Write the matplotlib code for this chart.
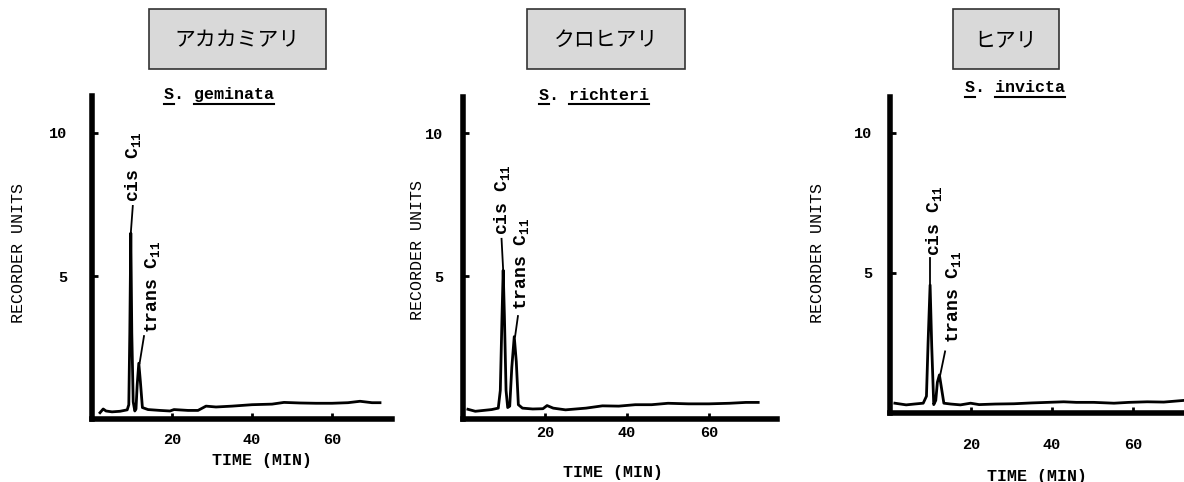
import matplotlib
matplotlib.use("Agg")
import matplotlib.pyplot as plt
from matplotlib.patches import Rectangle
from matplotlib.lines import Line2D
import numpy as np

plt.rcParams['font.family'] = ['Liberation Mono', 'Noto Sans CJK JP', 'DejaVu Sans']
plt.rcParams['font.weight'] = 'bold'
plt.rcParams['mathtext.fontset'] = 'custom'
plt.rcParams['mathtext.rm'] = 'Liberation Mono'
plt.rcParams['mathtext.bf'] = 'Liberation Mono:bold'

# --- data ---
names_jp = ['アカカミアリ', 'クロヒアリ', 'ヒアリ']
species = ['S. geminata', 'S. richteri', 'S. invicta']

t1 = [2.0, 2.8, 3.5, 5.0, 7.0, 8.8, 9.2, 9.45, 9.7, 9.95, 10.3, 10.7, 11.0, 11.3, 11.7, 12.1,
      12.6, 14.0, 17.0, 19.5, 20.5, 24.0, 26.5, 28.5, 31.0, 35.0, 40.0, 45.0, 48.0, 52.0,
      56.0, 60.0, 64.0, 67.0, 70.0, 72.0]
v1 = [0.22, 0.35, 0.28, 0.25, 0.27, 0.32, 0.5, 3.0, 6.5, 3.0, 0.6, 0.28, 0.35, 1.2, 1.95, 1.3,
      0.4, 0.33, 0.3, 0.28, 0.33, 0.3, 0.3, 0.45, 0.42, 0.45, 0.5, 0.52, 0.58, 0.56,
      0.55, 0.55, 0.57, 0.62, 0.57, 0.57]

t2 = [1.2, 3.0, 5.0, 7.0, 8.6, 9.1, 9.5, 9.8, 10.1, 10.5, 10.9, 11.4, 11.9, 12.5, 13.0, 13.5,
      14.5, 17.0, 19.5, 20.5, 22.0, 25.0, 30.0, 34.0, 38.0, 42.0, 46.0, 50.0, 55.0, 60.0,
      65.0, 69.0, 72.0]
v2 = [0.34, 0.27, 0.3, 0.33, 0.38, 1.0, 3.5, 5.2, 3.6, 1.0, 0.4, 0.45, 1.8, 2.88, 2.0, 0.5,
      0.38, 0.35, 0.36, 0.47, 0.38, 0.32, 0.38, 0.46, 0.45, 0.5, 0.5, 0.55, 0.53, 0.53,
      0.55, 0.58, 0.58]

t3 = [1.2, 4.0, 6.0, 8.2, 9.0, 9.4, 9.9, 10.3, 10.8, 11.3, 11.7, 12.2, 12.7, 13.3, 15.0, 17.4,
      19.9, 22.0, 26.0, 30.6, 35.0, 39.0, 42.9, 46.0, 50.3, 55.3, 59.0, 63.5, 67.6, 72.6]
v3 = [0.35, 0.29, 0.32, 0.35, 0.6, 2.5, 4.57, 2.4, 0.3, 0.45, 1.1, 1.36, 0.9, 0.35, 0.32, 0.29,
      0.35, 0.3, 0.32, 0.33, 0.36, 0.38, 0.4, 0.38, 0.38, 0.35, 0.38, 0.4, 0.39, 0.45]

traces = [(t1, v1), (t2, v2), (t3, v3)]
trans_idx = [14, 13, 11]  # index of trans C11 peak in each trace

# --- layout (pixels) ---
W, H = 1184, 482
panels = [
    dict(left=92, zero=419, ppm=4.0, ppu=28.6, xmax=75.0, ymax=11.3, ypad=18, xpad=10,
         xl=(262, 460), yl=(19, 253), title=(219, 95), box=(149, 326),
         cis_txt=(10.3, 7.6), cis_end=(10.2, 7.45), tr_txt=(15.0, 3.0), tr_end=(13.0, 2.9)),
    dict(left=463, zero=419, ppm=4.1, ppu=28.6, xmax=76.6, ymax=11.26, ypad=14, xpad=5,
         xl=(613, 472), yl=(417, 250), title=(594, 95), box=(527, 685),
         cis_txt=(9.4, 6.45), cis_end=(9.4, 6.3), tr_txt=(14.3, 3.8), tr_end=(13.4, 3.6)),
    dict(left=890, zero=413, ppm=4.05, ppu=28.0, xmax=72.6, ymax=11.3, ypad=13, xpad=18,
         xl=(1037, 476), yl=(817, 253), title=(1015, 88), box=(953, 1059),
         cis_txt=(10.9, 5.6), cis_end=(9.9, 5.55), tr_txt=(15.6, 2.5), tr_end=(13.6, 2.2)),
]

fig = plt.figure(figsize=(W / 100, H / 100), dpi=100)
titles = []

for i, p in enumerate(panels):
    t, v = traces[i]
    ax = fig.add_axes([p['left'] / W, (H - p['zero']) / H,
                       p['xmax'] * p['ppm'] / W, p['ymax'] * p['ppu'] / H])
    ax.plot(t, v, color='black', lw=2.0, solid_joinstyle='round')
    ax.set_xlim(0, p['xmax'])
    ax.set_ylim(0, p['ymax'])
    for s in ['top', 'right']:
        ax.spines[s].set_visible(False)
    for s in ['left', 'bottom']:
        ax.spines[s].set_linewidth(4)
        ax.spines[s].set_capstyle('projecting')
    ax.set_xticks([20, 40, 60])
    ax.set_yticks([5, 10])
    ax.tick_params(axis='y', direction='in', length=4, width=2, pad=p['ypad'], labelsize=11)
    ax.tick_params(axis='x', direction='in', length=4, width=2, pad=p['xpad'], labelsize=11)

    # peak labels
    ic = int(np.argmax(v))
    it = trans_idx[i]
    ax.plot([t[ic], p['cis_end'][0]], [v[ic], p['cis_end'][1]], color='black', lw=1.3)
    ax.plot([t[it] + 0.2, p['tr_end'][0]], [v[it], p['tr_end'][1]], color='black', lw=1.3)
    ax.text(p['cis_txt'][0], p['cis_txt'][1], r'cis C$_{\mathbf{11}}$', rotation=90,
            ha='center', va='bottom', fontsize=13)
    ax.text(p['tr_txt'][0], p['tr_txt'][1], r'trans C$_{\mathbf{11}}$', rotation=90,
            ha='center', va='bottom', fontsize=13)

    fig.text(p['xl'][0] / W, 1 - p['xl'][1] / H, 'TIME (MIN)', ha='center', va='center',
             fontsize=12)
    fig.text(p['yl'][0] / W, 1 - p['yl'][1] / H, 'RECORDER UNITS', ha='center', va='center',
             rotation=90, fontsize=12, fontweight='normal')
    titles.append(fig.text(p['title'][0] / W, 1 - p['title'][1] / H, species[i],
                           ha='center', va='center', fontsize=12))

    # Japanese name box
    x0, x1 = p['box']
    fig.patches.append(Rectangle((x0 / W, 1 - 69 / H), (x1 - x0) / W, 60 / H,
                                 transform=fig.transFigure, facecolor='#d9d9d9',
                                 edgecolor='#333333', lw=1.2))
    fig.text((x0 + x1) / 2 / W, 1 - 40 / H, names_jp[i], ha='center', va='center',
             fontsize=15, fontweight='normal', family=['Noto Sans CJK JP', 'DejaVu Sans'])

# underline "S" and the species epithet
fig.canvas.draw()
r = fig.canvas.get_renderer()
for tt in titles:
    bb = tt.get_window_extent(r)
    s = tt.get_text()
    cw = bb.width / len(s)
    y = (bb.y0 - 1) / H
    for a, b in [(bb.x0, bb.x0 + cw), (bb.x0 + 3 * cw, bb.x1)]:
        fig.add_artist(Line2D([a / W, b / W], [y, y], transform=fig.transFigure,
                              color='black', lw=1.5))

fig.savefig('out.png', dpi=100)
